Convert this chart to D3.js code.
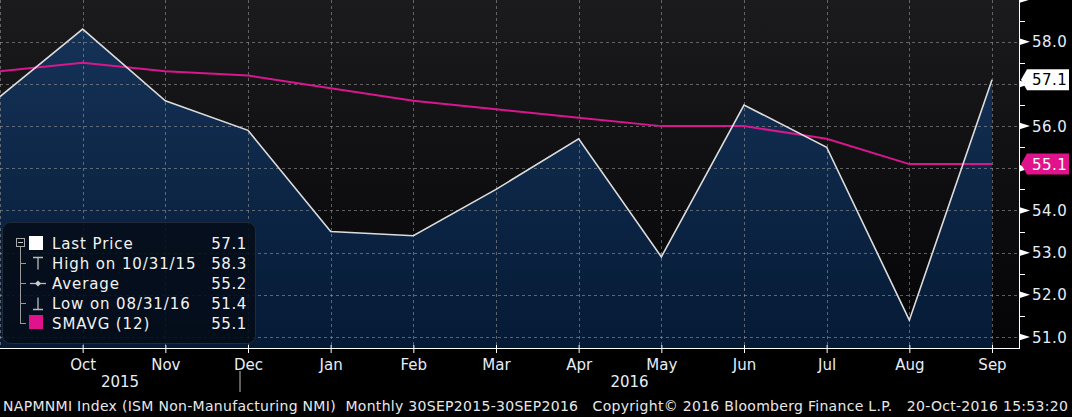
<!DOCTYPE html>
<html>
<head>
<meta charset="utf-8">
<script src="https://cdn.jsdelivr.net/npm/d3@7"></script>
<style>
  html, body { margin: 0; padding: 0; background: #000; }
  svg { display: block; }
  text { font-family: "DejaVu Sans", sans-serif; }
</style>
</head>
<body>
<svg id="chart" width="1072" height="417"></svg>
<script>
// ---- data ----
const dates = ["2015-09-30","2015-10-31","2015-11-30","2015-12-31","2016-01-31","2016-02-29",
               "2016-03-31","2016-04-30","2016-05-31","2016-06-30","2016-07-31","2016-08-31","2016-09-30"];
const lastPrice = [56.7, 58.3, 56.6, 55.9, 53.5, 53.4, 54.5, 55.7, 52.9, 56.5, 55.5, 51.4, 57.1];
const smavg12   = [57.3, 57.5, 57.3, 57.2, 56.9, 56.6, 56.4, 56.2, 56.0, 56.0, 55.7, 55.1, 55.1];
const monthLabels = ["Oct","Nov","Dec","Jan","Feb","Mar","Apr","May","Jun","Jul","Aug","Sep"];
const yearLabels = ["2015","2016"];
const yTicks = [51, 52, 53, 54, 55, 56, 57, 58, 59];
const legendLabels = ["Last Price","High on 10/31/15","Average","Low on 08/31/16","SMAVG (12)"];
const legendValues = ["57.1","58.3","55.2","51.4","55.1"];
const footer = "NAPMNMI Index (ISM Non-Manufacturing NMI)  Monthly 30SEP2015-30SEP2016   Copyright\u00A9 2016 Bloomberg Finance L.P.   20-Oct-2016 15:53:20";

// ---- layout ----
const W = 1072, H = 417;
const plotR = 1019, plotB = 348;
const svg = d3.select("#chart");
const defs = svg.append("defs");

const bgGrad = defs.append("linearGradient").attr("id","bgGrad").attr("x1",0).attr("y1",0).attr("x2",0).attr("y2",1);
bgGrad.append("stop").attr("offset","0%").attr("stop-color","#1b1b1e");
bgGrad.append("stop").attr("offset","100%").attr("stop-color","#040406");
const areaGrad = defs.append("linearGradient").attr("id","areaGrad").attr("gradientUnits","userSpaceOnUse")
  .attr("x1",0).attr("y1",0).attr("x2",0).attr("y2",plotB);
areaGrad.append("stop").attr("offset","0%").attr("stop-color","#16345a");
areaGrad.append("stop").attr("offset","100%").attr("stop-color","#051a35");

const x = d3.scalePoint().domain(dates).range([0, 992]);
const y = d3.scaleLinear().domain([50.74, 58.99]).range([plotB, 0]);

svg.append("rect").attr("width",W).attr("height",H).attr("fill","#000");
svg.append("rect").attr("x",0).attr("y",0).attr("width",plotR).attr("height",plotB).attr("fill","url(#bgGrad)");

// area
const area = d3.area().x((d,i)=>x(dates[i])).y0(plotB).y1(d=>y(d));
svg.append("path").datum(lastPrice).attr("d",area).attr("fill","url(#areaGrad)");

// grid
const grid = svg.append("g").attr("stroke","rgba(150,150,150,0.6)").attr("stroke-dasharray","3,3").attr("stroke-width",1);
grid.selectAll("line.h").data(yTicks.filter(v=>y(v)>2)).join("line")
  .attr("x1",0).attr("x2",plotR).attr("y1",d=>Math.round(y(d))+0.5).attr("y2",d=>Math.round(y(d))+0.5);
grid.selectAll("line.v").data(dates).join("line")
  .attr("x1",d=>Math.round(x(d))+0.5).attr("x2",d=>Math.round(x(d))+0.5).attr("y1",0).attr("y2",plotB);

// lines
const line = d3.line().x((d,i)=>x(dates[i])).y(d=>y(d));
svg.append("path").datum(smavg12).attr("d",line).attr("fill","none").attr("stroke","#d8178e").attr("stroke-width",2);
svg.append("path").datum(lastPrice).attr("d",line).attr("fill","none").attr("stroke","#dcdcdc").attr("stroke-width",1.6);

// legend
const lg = svg.append("g");
lg.append("rect").attr("x",2.5).attr("y",222.5).attr("width",253).attr("height",121).attr("rx",8)
  .attr("fill","rgba(4,12,24,0.88)").attr("stroke","#1f2b3b");
const rowY = i => 249 + i*20;
// tree
lg.append("rect").attr("x",16.5).attr("y",238.5).attr("width",8).attr("height",8).attr("fill","none").attr("stroke","#aaa");
lg.append("line").attr("x1",18).attr("x2",23).attr("y1",242.5).attr("y2",242.5).attr("stroke","#ccc");
lg.append("line").attr("x1",20.5).attr("x2",20.5).attr("y1",247).attr("y2",rowY(4)-5).attr("stroke","#999");
[1,2,3,4].forEach(i=>{
  lg.append("line").attr("x1",20).attr("x2",26).attr("y1",rowY(i)-5.5).attr("y2",rowY(i)-5.5).attr("stroke","#999");
});
// icons
lg.append("rect").attr("x",29).attr("y",236).attr("width",14).attr("height",14).attr("fill","#fff");
lg.append("path").attr("d",`M33,${rowY(1)-11.5}H43M38,${rowY(1)-11.5}V${rowY(1)+0.5}`).attr("stroke","#bbb").attr("stroke-width",1.3).attr("fill","none");
lg.append("path").attr("d",`M30,${rowY(2)-5.5}H46`).attr("stroke","#bbb").attr("stroke-width",1.3);
lg.append("path").attr("d",`M38,${rowY(2)-8.5}L41,${rowY(2)-5.5}L38,${rowY(2)-2.5}L35,${rowY(2)-5.5}Z`).attr("fill","#ccc");
lg.append("path").attr("d",`M33,${rowY(3)+0.5}H43M38,${rowY(3)+0.5}V${rowY(3)-11.5}`).attr("stroke","#bbb").attr("stroke-width",1.3).attr("fill","none");
lg.append("rect").attr("x",29).attr("y",rowY(4)-14).attr("width",14).attr("height",14).attr("fill","#e0138c");
lg.selectAll("text.lab").data(legendLabels).join("text").attr("class","lab")
  .attr("x",52).attr("y",(d,i)=>rowY(i)).attr("fill","#f2f2f2").attr("font-size",15).attr("letter-spacing",0.9).text(d=>d);
lg.selectAll("text.val").data(legendValues).join("text").attr("class","val")
  .attr("x",247).attr("y",(d,i)=>rowY(i)).attr("text-anchor","end").attr("fill","#eef3fa").attr("font-size",15).attr("letter-spacing",0.6).text(d=>d);

// right axis
const ra = svg.append("g");
const tagVals = [lastPrice[lastPrice.length-1], smavg12[smavg12.length-1]];
const visibleTick = v => tagVals.every(t => Math.abs(y(t) - y(v)) > 14);
ra.append("line").attr("x1",plotR+0.5).attr("x2",plotR+0.5).attr("y1",0).attr("y2",plotB+1).attr("stroke","#fff");
yTicks.forEach(v=>{
  const yy = y(v);
  ra.append("path").attr("d",`M${plotR},${yy-3.5}L${plotR+11},${yy}L${plotR},${yy+3.5}Z`).attr("fill","#fff");
});
d3.range(50.5, 59, 1).filter(v=>y(v)>0 && y(v)<plotB).forEach(v=>{
  ra.append("line").attr("x1",plotR).attr("x2",plotR+6).attr("y1",Math.round(y(v))+0.5).attr("y2",Math.round(y(v))+0.5).attr("stroke","#fff");
});
ra.selectAll("text").data(yTicks.filter(v=>v<59 && visibleTick(v))).join("text")
  .attr("x",1032).attr("y",d=>y(d)+5.5).attr("fill","#e6eef8").attr("font-size",15).attr("letter-spacing",0.5).text(d=>d.toFixed(1));

// value tags
function tag(val, fill, txt) {
  const yy = y(val);
  ra.append("path").attr("d",`M${plotR+2},${yy}L${plotR+8},${yy-10.5}H1069V${yy+10.5}H${plotR+8}Z`).attr("fill",fill);
  ra.append("text").attr("x",1032).attr("y",yy+5.5).attr("fill",txt).attr("font-size",15).attr("letter-spacing",0.5).text(val.toFixed(1));
}
tag(tagVals[0], "#ffffff", "#000");
tag(tagVals[1], "#e0138c", "#fff");

// bottom axis
const xAxis = d3.axisBottom(x).tickValues(dates.slice(1)).tickFormat((d,i)=>monthLabels[i]).tickSize(5).tickPadding(6);
const ba = svg.append("g").attr("transform",`translate(0,${plotB})`).call(xAxis);
ba.select(".domain").attr("d",`M0,0.5H${plotR+1}`).attr("stroke","#fff");
ba.selectAll(".tick line").attr("stroke","#fff").attr("y1",-3);
ba.selectAll(".tick text").attr("fill","#e6eef8").attr("font-size",15).attr("font-family","DejaVu Sans");
// years
const yearSep = x(dates[3]) - 8;
svg.append("line").attr("x1",yearSep).attr("x2",yearSep).attr("y1",371).attr("y2",392).attr("stroke","#bbb");
svg.selectAll("text.year").data(yearLabels).join("text").attr("class","year")
  .attr("x",(d,i)=> i===0 ? yearSep/2 : (yearSep+plotR)/2).attr("y",387).attr("text-anchor","middle")
  .attr("fill","#e6eef8").attr("font-size",15).text(d=>d);

svg.append("text").attr("x",3).attr("y",411).attr("fill","#e8e8e8").attr("font-size",14).attr("letter-spacing",0.3)
  .text(footer).attr("xml:space","preserve").style("white-space","pre");
</script>
</body>
</html>
